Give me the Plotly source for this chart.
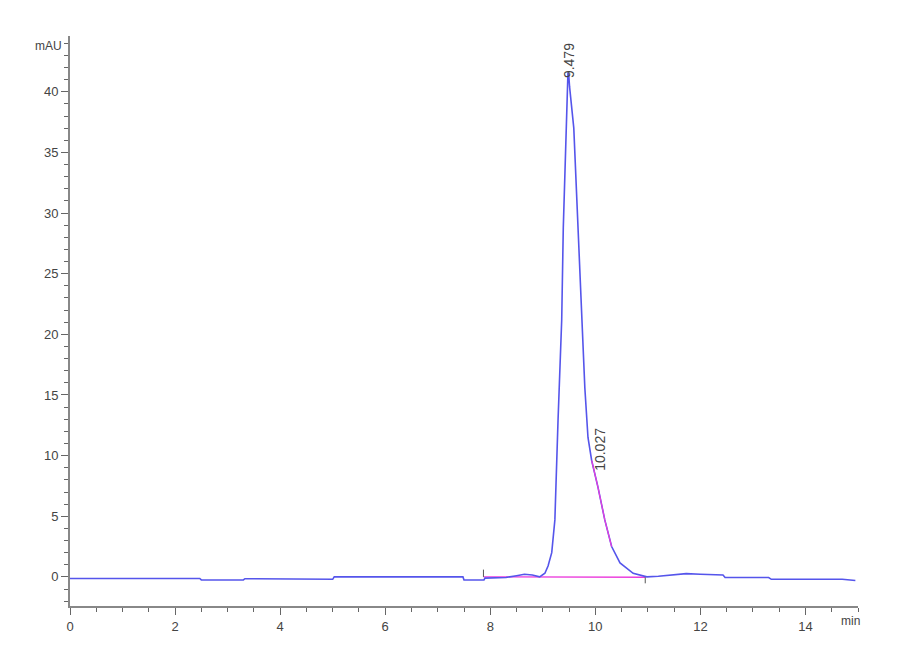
import numpy as np
import plotly.graph_objects as go

# chromatogram trace (min, mAU)
time_min = [0.0, 2.47, 2.5, 3.3, 3.33, 4.3, 4.35, 5.0, 5.03, 7.48, 7.5, 7.88, 7.9,
            8.3, 8.5, 8.65, 8.8, 8.9, 8.94, 9.04, 9.1, 9.17, 9.23, 9.29, 9.36, 9.39,
            9.45, 9.465, 9.479, 9.495, 9.51, 9.59, 9.67, 9.74, 9.80, 9.86, 9.93, 10.05, 10.18,
            10.31, 10.47, 10.72, 10.98, 11.2, 11.5, 11.73, 12.0, 12.43, 12.47,
            13.3, 13.35, 14.7, 14.95]
signal_mau = [-0.13, -0.13, -0.25, -0.25, -0.15, -0.15, -0.2, -0.2, 0.0, 0.0, -0.25, -0.25, -0.1,
              -0.05, 0.1, 0.22, 0.15, 0.02, 0.0, 0.3, 0.9, 2.0, 4.7, 12.9, 21.2, 28.8,
              37.0, 40.6, 41.6, 41.3, 40.4, 37.0, 28.8, 21.2, 15.6, 11.5, 9.6, 7.4, 4.7,
              2.5, 1.15, 0.3, 0.0, 0.05, 0.15, 0.27, 0.22, 0.16, -0.05,
              -0.05, -0.2, -0.2, -0.3]

# integration baseline and peak labels
baseline_t = [7.87, 10.95]
baseline_y = [0.0, -0.03]
shoulder_range = [9.9, 10.35]
peak_rt = [9.479, 10.027]
peak_label_y = [41.0, 8.6]

x_ticks = [0, 2, 4, 6, 8, 10, 12, 14]
y_ticks = [0, 5, 10, 15, 20, 25, 30, 35, 40]

t = np.array(time_min)
s = np.array(signal_mau)
mask = (t >= shoulder_range[0]) & (t <= shoulder_range[1])

blue = "rgb(85,85,235)"
pink = "rgb(235,60,220)"

fig = go.Figure()

fig.add_trace(go.Scatter(x=baseline_t, y=baseline_y, mode="lines",
                         line=dict(color=pink, width=1.3), hoverinfo="skip"))
fig.add_trace(go.Scatter(x=time_min, y=signal_mau, mode="lines",
                         line=dict(color=blue, width=1.6)))
fig.add_trace(go.Scatter(x=t[mask], y=s[mask], mode="lines",
                         line=dict(color=pink, width=1.2), hoverinfo="skip"))

# start / end ticks of the baseline
fig.add_trace(go.Scatter(x=[baseline_t[0], baseline_t[0]], y=[baseline_y[0], baseline_y[0] + 0.6],
                         mode="lines", line=dict(color="#555", width=1), hoverinfo="skip"))
fig.add_trace(go.Scatter(x=[baseline_t[1], baseline_t[1]], y=[baseline_y[1], baseline_y[1] - 0.5],
                         mode="lines", line=dict(color="#555", width=1), hoverinfo="skip"))

for rt, ly in zip(peak_rt, peak_label_y):
    fig.add_annotation(x=rt, y=ly, text=f"{rt:.3f}", textangle=-90, showarrow=False,
                       xanchor="center", yanchor="bottom", xshift=3 if rt > 10 else 1,
                       font=dict(family="Arial", size=14, color="#444"))

fig.add_annotation(x=0, xref="paper", y=0.983, yref="paper", text="mAU", showarrow=False,
                   xanchor="right", yanchor="middle", xshift=-6,
                   font=dict(family="Arial", size=12, color="#444"))
fig.add_annotation(x=14.85, y=0, yref="paper", text="min", showarrow=False,
                   xanchor="center", yanchor="top", yshift=-6,
                   font=dict(family="Arial", size=12, color="#444"))

fig.update_xaxes(range=[0, 15], tickvals=x_ticks, ticks="outside", ticklen=7, tickwidth=1,
                 tickcolor="#666", showline=True, linecolor="#888", linewidth=2,
                 showgrid=False, zeroline=False,
                 minor=dict(dtick=0.5, ticks="outside", ticklen=4, tickcolor="#666", showgrid=False),
                 tickfont=dict(family="Arial", size=13, color="#444"))
fig.update_yaxes(range=[-2.4, 44.6], tickvals=y_ticks, ticks="outside", ticklen=7, tickwidth=1,
                 tickcolor="#666", showline=True, linecolor="#888", linewidth=2,
                 showgrid=False, zeroline=False,
                 minor=dict(dtick=1, ticks="outside", ticklen=4, tickcolor="#666", showgrid=False),
                 tickfont=dict(family="Arial", size=13, color="#444"))

fig.update_layout(width=900, height=660, showlegend=False,
                  plot_bgcolor="white", paper_bgcolor="white",
                  margin=dict(l=62, r=50, t=28, b=62))

fig.write_html("out.html")
